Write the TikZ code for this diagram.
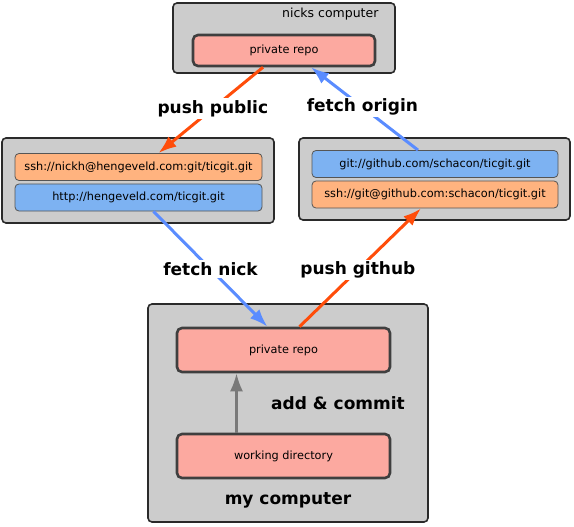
\documentclass[tikz,border=0pt]{standalone}
\usepackage{fontspec}
\setmainfont{DejaVu Sans}
\usetikzlibrary{arrows.meta,calc}
\definecolor{boxgray}{HTML}{CCCCCC}
\definecolor{repopink}{HTML}{FCA9A0}
\definecolor{urlorange}{HTML}{FFB37F}
\definecolor{urlblue}{HTML}{7DB2F2}
\definecolor{arrorange}{HTML}{FF4D0A}
\definecolor{arrblue}{HTML}{5A8CFF}
\definecolor{edge}{HTML}{2A2A2A}
\begin{document}
\begin{tikzpicture}[x=1pt,y=-1pt,
  machine/.style={draw=edge,line width=1.6pt,fill=boxgray,rounded corners=4pt},
  repo/.style={draw=edge!90,line width=2.6pt,fill=repopink,rounded corners=5pt,minimum height=31pt,font=\fontsize{11.3}{13}\selectfont,inner sep=0pt},
  url/.style={draw=edge!80,line width=0.8pt,rounded corners=4pt,minimum width=247pt,minimum height=27pt,font=\fontsize{11.3}{13}\selectfont,inner sep=0pt},
  lbl/.style={font=\fontsize{17}{19}\bfseries\selectfont,fill=white,inner sep=2pt},
  arr/.style={line width=3pt,-{Latex[length=18pt,width=13pt]}},
]
\useasboundingbox (0,0) rectangle (574,527);
% machines
\draw[machine] (173,3) rectangle (395,73);
\draw[machine] (2,138) rectangle (274,223);
\draw[machine] (299,138) rectangle (570,220);
\draw[machine] (148,304) rectangle (428,522);
\node[anchor=east,font=\fontsize{12.5}{14}\selectfont] (nicklbl) at (382,14) {nicks computer};
\node[font=\fontsize{17}{19}\bfseries\selectfont] (mylbl) at (288,500) {my computer};
% repos
\node[repo,minimum width=182pt] (ptop) at (284,50.5) {private repo};
\node[repo,minimum width=213pt,minimum height=44pt] (pmine) at (283.5,350) {private repo};
\node[repo,minimum width=213pt,minimum height=44pt] (wdir) at (283.5,456) {working directory};
% urls
\node[url,fill=urlorange] (sshnick) at (138.5,167) {ssh://nickh@hengeveld.com:git/ticgit.git};
\node[url,fill=urlblue] (httpnick) at (138.5,197.5) {http://hengeveld.com/ticgit.git};
\node[url,fill=urlblue,minimum width=246pt] (gitgh) at (435,164) {git://github.com/schacon/ticgit.git};
\node[url,fill=urlorange,minimum width=246pt] (sshgh) at (435,194.5) {ssh://git@github.com:schacon/ticgit.git};
% arrows
\draw[arr,draw=arrorange,fill=arrorange] ([xshift=-21pt]ptop.south) -- node[lbl,pos=0.48] (pushpub) {push public} ([xshift=20pt]sshnick.north);
\draw[arr,draw=arrblue,fill=arrblue] ([xshift=-17pt]gitgh.north) -- node[lbl,pos=0.52] (fetchorig) {fetch origin} ([xshift=27pt]ptop.south);
\draw[arr,draw=arrblue,fill=arrblue] ([xshift=15pt]httpnick.south) -- node[lbl] (fetchnick) {fetch nick} ([xshift=-16pt]pmine.north);
\draw[arr,draw=arrorange,fill=arrorange] ([xshift=16pt]pmine.north) -- node[lbl,pos=0.48] (pushgh) {push github} ([xshift=-14pt]sshgh.south);
\draw[arr,draw=gray!95!black,fill=gray!95!black,line width=2.6pt] ([xshift=-47pt]wdir.north) -- ([xshift=-47pt]pmine.south);
\node[font=\fontsize{17}{19}\bfseries\selectfont] (addc) at (338,403) {add \& commit};
\end{tikzpicture}
\end{document}
